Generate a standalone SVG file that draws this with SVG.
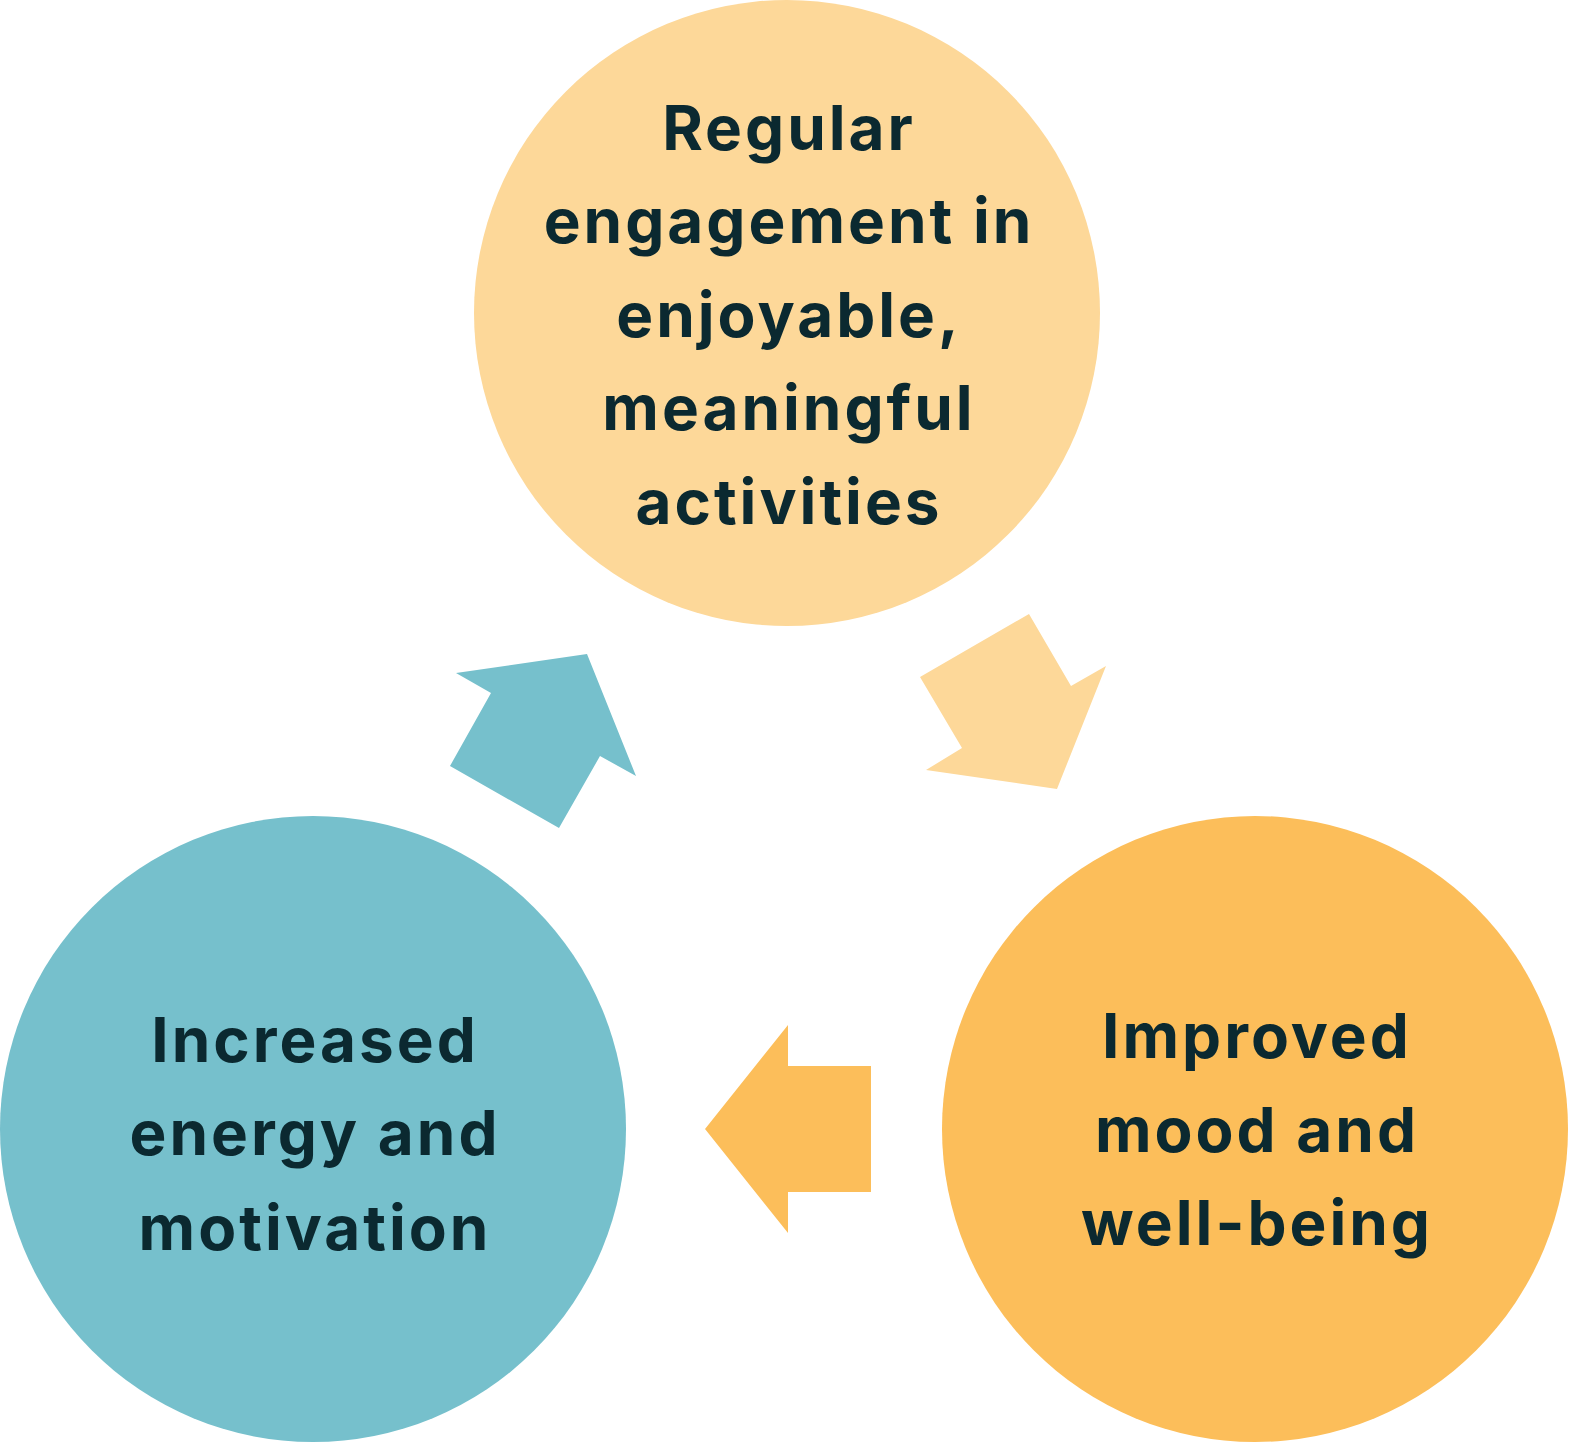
<svg xmlns="http://www.w3.org/2000/svg" width="1578" height="1452" viewBox="0 0 1578 1452">
<style>
.lbl{font-family:Inter,"Open Sans","Liberation Sans",sans-serif;font-weight:700;font-size:62px;letter-spacing:3px;fill:#0b2930;text-anchor:middle}
</style>
<rect width="1578" height="1452" fill="#ffffff"/>
<g id="connectors">
<polygon id="arrow-teal" fill="#76c0cc" points="456,673 587,654 636,776 600,756 559,828 450,766 491,693"/>
<polygon id="arrow-light" fill="#fdd899" points="920,677 1029,614 1071,686 1106,666 1057,789 926,770 962,748"/>
<polygon id="arrow-orange" fill="#fcbe5a" points="871,1066 788,1066 788,1025 705,1129 788,1233 788,1192 871,1192"/>
</g>
<g id="node-top">
<circle cx="787" cy="313" r="313" fill="#fdd899"/>
<text class="lbl"><tspan x="789" y="150">Regular</tspan><tspan x="789" y="243">engagement in</tspan><tspan x="789" y="337">enjoyable,</tspan><tspan x="789" y="430">meaningful</tspan><tspan x="789" y="524">activities</tspan></text>
</g>
<g id="node-left">
<circle cx="313" cy="1129" r="313" fill="#76c0cc"/>
<text class="lbl"><tspan x="315" y="1062">Increased</tspan><tspan x="315" y="1155">energy and</tspan><tspan x="315" y="1250">motivation</tspan></text>
</g>
<g id="node-right">
<circle cx="1255" cy="1129" r="313" fill="#fcbe5a"/>
<text class="lbl"><tspan x="1257" y="1058">Improved</tspan><tspan x="1257" y="1152">mood and</tspan><tspan x="1257" y="1245">well-being</tspan></text>
</g>
</svg>
